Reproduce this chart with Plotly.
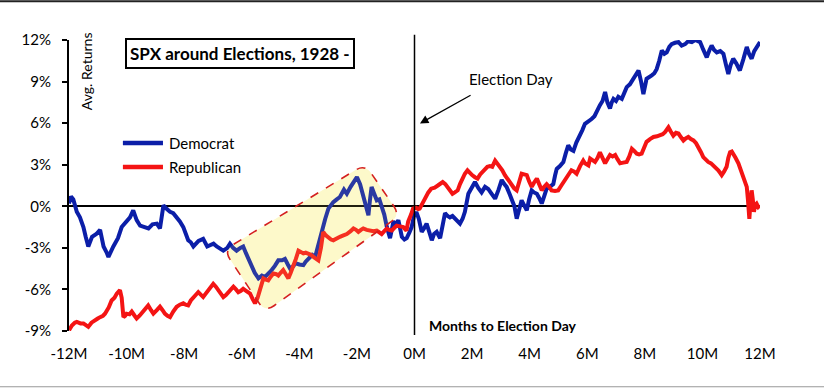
import numpy as np
import plotly.graph_objects as go

# ---------------- data ----------------
dem_months = [-12.0, -11.93, -11.85, -11.73, -11.62, -11.5, -11.42, -11.33, -11.2, -11.05, -10.92, -10.8, -10.7,
              -10.63, -10.46, -10.3, -10.17, -10.0, -9.88, -9.77, -9.65, -9.53, -9.38, -9.24, -9.1, -8.95, -8.84,
              -8.78, -8.72, -8.6, -8.49, -8.38, -8.26, -8.15, -8.03, -7.95, -7.86, -7.77, -7.68, -7.5, -7.34, -7.2,
              -7.1, -6.98, -6.87, -6.75, -6.64, -6.5, -6.41, -6.3, -6.18, -6.05, -5.95, -5.85, -5.71, -5.55, -5.42,
              -5.3, -5.19, -5.08, -4.96, -4.85, -4.73, -4.6, -4.5, -4.4, -4.32, -4.2, -4.15, -4.0, -3.86, -3.78,
              -3.69, -3.55, -3.45, -3.35, -3.22, -3.1, -2.99, -2.82, -2.7, -2.59, -2.45, -2.35, -2.22, -2.12, -2.0,
              -1.89, -1.8, -1.72, -1.6, -1.55, -1.49, -1.4, -1.31, -1.22, -1.14, -1.05, -0.96, -0.85, -0.73, -0.64,
              -0.56, -0.44, -0.35, -0.27, -0.18, -0.1, 0.0, 0.08, 0.15, 0.25, 0.33, 0.42, 0.52, 0.6, 0.68, 0.77,
              0.89, 0.97, 1.06, 1.15, 1.23, 1.32, 1.4, 1.5, 1.58, 1.67, 1.75, 1.87, 1.95, 2.1, 2.22, 2.33, 2.45,
              2.56, 2.68, 2.8, 2.92, 3.03, 3.12, 3.2, 3.3, 3.38, 3.47, 3.55, 3.63, 3.72, 3.8, 3.9, 3.98, 4.07, 4.15,
              4.25, 4.33, 4.42, 4.5, 4.59, 4.7, 4.82, 4.88, 4.94, 5.05, 5.17, 5.25, 5.34, 5.43, 5.52, 5.62, 5.75,
              5.83, 5.92, 6.03, 6.15, 6.25, 6.33, 6.44, 6.53, 6.62, 6.7, 6.79, 6.85, 6.91, 7.0, 7.08, 7.2, 7.28,
              7.37, 7.48, 7.6, 7.7, 7.78, 7.87, 7.95, 8.06, 8.15, 8.24, 8.33, 8.41, 8.5, 8.59, 8.68, 8.76, 8.85,
              8.93, 9.05, 9.17, 9.28, 9.4, 9.5, 9.63, 9.75, 9.85, 9.92, 10.03, 10.15, 10.25, 10.32, 10.4, 10.5,
              10.62, 10.73, 10.82, 10.9, 10.98, 11.07, 11.18, 11.3, 11.42, 11.54, 11.62, 11.71, 11.8, 11.9, 12.0]
dem_returns = [0.2, 0.7, 0.5, -0.4, -0.8, -1.5, -2.2, -2.9, -2.2, -2.0, -1.7, -2.9, -3.3,
               -3.65, -2.9, -2.3, -1.5, -1.1, -0.8, -0.3, -1.0, -1.4, -1.5, -1.6, -1.3, -1.25, -1.6,
               -0.8, 0.07, -0.2, -0.4, -0.5, -0.77, -1.1, -1.5, -2.0, -2.45, -2.6, -2.9, -2.5, -2.35, -2.9,
               -2.8, -2.7, -2.9, -3.1, -3.2, -3.0, -2.7, -3.0, -3.2, -3.0, -2.9, -3.4, -4.1, -4.8, -5.2,
               -5.0, -5.1, -4.9, -4.6, -4.3, -3.9, -3.9, -3.8, -4.2, -4.5, -4.3, -4.1, -4.2, -4.25, -4.0,
               -3.8, -3.5, -3.65, -2.8, -1.7, -0.9, -0.17, 0.3, 0.5, 0.67, 1.2, 0.9, 1.4, 1.75, 2.1,
               1.6, 0.9, 0.2, -0.65, 0.4, 1.4, 0.9, 0.43, 0.5, 0.07, -0.6, -1.5, -2.3, -1.1, -1.3,
               -1.0, -2.2, -2.4, -2.3, -1.9, -1.5, -0.5, -0.5, -0.9, -1.85, -1.6, -1.25, -1.9, -2.45, -2.0, -1.85,
               -2.3, -1.5, -0.5, -0.7, -0.8, -0.7, -0.9, -1.1, -1.25, -0.9, -0.4, 0.9, 1.2, 1.75, 1.3, 1.0, 1.4,
               1.25, 0.9, 0.55, 1.2, 1.9, 1.6, 1.4, 0.9, 0.43, 0.0, -0.9, -0.2, 0.43, 0.1, -0.3, 0.5, 1.15, 1.0,
               0.9, 0.6, 0.2, 0.7, 1.27, 1.4, 1.6, 2.2, 2.7, 2.9, 3.2, 3.8, 4.4, 4.1, 4.0, 4.6, 5.1,
               5.5, 5.95, 6.1, 6.3, 6.5, 6.9, 7.3, 7.6, 8.25, 7.5, 7.05, 7.5, 7.75, 7.6, 7.9, 7.75, 8.2,
               8.6, 8.8, 9.2, 9.4, 9.8, 9.0, 8.1, 9.2, 9.3, 9.45, 9.6, 9.9, 10.5, 11.25, 11.0, 11.1, 11.5,
               11.7, 11.8, 11.85, 11.6, 11.7, 11.9, 11.85, 12.0, 11.9, 11.85, 11.3, 10.75, 11.3, 11.6, 11.3, 11.1,
               11.2, 11.0, 10.2, 9.55, 10.2, 10.65, 10.3, 9.8, 10.6, 11.5, 11.0, 10.65, 11.2, 11.5, 11.85]

rep_months = [-12.0, -11.9, -11.8, -11.73, -11.6, -11.5, -11.4, -11.33, -11.22, -11.1, -11.0, -10.92, -10.82,
              -10.75, -10.62, -10.52, -10.42, -10.34, -10.23, -10.17, -10.11, -10.05, -10.0, -9.9, -9.82, -9.72,
              -9.65, -9.55, -9.42, -9.32, -9.25, -9.15, -9.07, -8.95, -8.84, -8.75, -8.67, -8.58, -8.49, -8.38,
              -8.26, -8.15, -8.03, -7.95, -7.86, -7.77, -7.68, -7.6, -7.51, -7.42, -7.34, -7.25, -7.16, -7.08,
              -6.99, -6.9, -6.81, -6.72, -6.64, -6.55, -6.47, -6.38, -6.29, -6.2, -6.12, -6.03, -5.95, -5.85,
              -5.71, -5.62, -5.54, -5.45, -5.37, -5.3, -5.25, -5.16, -5.08, -5.0, -4.9, -4.8, -4.73, -4.65, -4.56,
              -4.47, -4.38, -4.3, -4.21, -4.12, -4.03, -3.95, -3.86, -3.78, -3.69, -3.6, -3.51, -3.42, -3.34,
              -3.25, -3.17, -3.08, -2.99, -2.9, -2.82, -2.7, -2.59, -2.47, -2.35, -2.22, -2.12, -2.03, -1.95,
              -1.86, -1.78, -1.66, -1.55, -1.43, -1.31, -1.22, -1.14, -1.05, -0.96, -0.88, -0.79, -0.7, -0.62,
              -0.5, -0.39, -0.28, -0.22, -0.12, -0.05, 0.05, 0.13, 0.18, 0.25, 0.35, 0.48, 0.58, 0.7, 0.81, 0.9,
              0.98, 1.07, 1.15, 1.25, 1.32, 1.4, 1.5, 1.58, 1.67, 1.75, 1.84, 1.92, 2.0, 2.1, 2.19, 2.28, 2.36,
              2.45, 2.53, 2.62, 2.7, 2.8, 2.88, 2.97, 3.05, 3.14, 3.25, 3.37, 3.46, 3.55, 3.63, 3.72, 3.81, 3.9,
              3.98, 4.07, 4.15, 4.25, 4.33, 4.42, 4.5, 4.59, 4.68, 4.76, 4.88, 4.99, 5.1, 5.22, 5.33, 5.45, 5.55,
              5.63, 5.75, 5.86, 5.92, 6.04, 6.1, 6.18, 6.27, 6.36, 6.44, 6.53, 6.62, 6.7, 6.79, 6.88, 6.97, 7.05,
              7.14, 7.25, 7.37, 7.46, 7.55, 7.63, 7.72, 7.8, 7.89, 7.97, 8.06, 8.18, 8.3, 8.42, 8.53, 8.62, 8.7,
              8.76, 8.82, 8.9, 8.99, 9.08, 9.17, 9.25, 9.34, 9.42, 9.51, 9.6, 9.69, 9.78, 9.86, 9.95, 10.03, 10.12,
              10.2, 10.3, 10.38, 10.47, 10.55, 10.62, 10.67, 10.75, 10.84, 10.9, 10.96, 11.02, 11.07, 11.15, 11.25,
              11.33, 11.42, 11.5, 11.54, 11.58, 11.63, 11.67, 11.71, 11.75, 11.79, 11.83, 11.88, 11.94, 12.0]
rep_returns = [-8.95, -8.6, -8.4, -8.35, -8.45, -8.45, -8.6, -8.7, -8.4, -8.2, -8.1, -8.0, -7.9,
               -7.75, -7.3, -6.8, -6.6, -6.3, -6.05, -6.6, -8.0, -7.9, -7.75, -7.8, -7.6, -7.9,
               -8.1, -7.9, -7.6, -7.3, -7.15, -7.5, -7.75, -7.5, -7.25, -7.5, -7.75, -7.9, -8.0, -7.6,
               -7.25, -7.1, -7.0, -7.1, -7.15, -6.8, -6.55, -6.4, -6.2, -6.4, -6.55, -6.3, -6.05, -5.8,
               -5.6, -5.8, -6.05, -6.3, -6.55, -6.4, -6.2, -6.0, -5.8, -6.0, -6.2, -6.1, -5.95, -6.1,
               -6.3, -6.7, -7.0, -6.6, -6.05, -5.6, -5.2, -5.3, -5.35, -5.1, -4.85, -4.9, -5.0, -4.8, -4.6,
               -4.9, -5.2, -4.8, -4.35, -3.8, -3.2, -3.3, -3.4, -3.35, -3.4, -3.5, -3.65, -3.8, -3.9,
               -3.0, -1.85, -2.1, -2.3, -2.4, -2.45, -2.3, -2.2, -2.1, -2.0, -1.8, -1.6, -1.7, -1.85,
               -1.7, -1.6, -1.7, -1.75, -1.8, -1.75, -1.9, -2.0, -1.8, -1.6, -1.7, -1.75, -1.55, -1.4,
               -1.45, -1.5, -1.75, -1.1, -0.6, -0.17, -0.1, -0.2, -0.17, 0.1, 0.55, 1.0, 1.27, 1.35, 1.5, 1.6,
               1.75, 1.6, 1.4, 1.1, 0.9, 1.0, 1.15, 1.6, 2.1, 2.35, 2.6, 2.4, 2.25, 2.1, 2.0, 2.3, 2.5,
               2.7, 2.85, 2.9, 2.85, 3.3, 3.1, 2.85, 2.6, 2.25, 1.9, 1.6, 1.3, 1.15, 1.7, 2.35, 2.3, 2.25,
               1.8, 1.4, 1.7, 2.0, 1.6, 1.15, 1.4, 1.6, 1.4, 1.15, 1.1, 1.15, 1.5, 1.9, 2.3, 2.6, 2.5,
               2.35, 2.9, 3.3, 3.1, 2.95, 3.45, 3.3, 3.2, 3.5, 3.9, 3.5, 3.1, 3.4, 3.7, 3.6, 3.7, 3.4,
               3.1, 3.15, 3.2, 3.6, 4.15, 4.0, 3.8, 3.75, 3.8, 4.2, 4.65, 4.85, 5.0, 5.05, 5.1, 5.2, 5.35,
               5.5, 5.7, 5.4, 5.1, 5.3, 5.25, 5.0, 4.75, 4.9, 5.0, 4.85, 4.75, 4.55, 4.3, 3.9, 3.55, 3.35,
               3.2, 3.1, 2.95, 2.8, 2.6, 2.4, 2.25, 2.5, 2.85, 3.5, 3.9, 3.95, 3.8, 3.5, 3.1,
               2.6, 2.1, 1.7, 1.4, 0.5, -0.9, 0.3, 1.15, 0.5, -0.4, 0.1, 0.2, -0.05, 0.07]

x_tickvals = [-12, -10, -8, -6, -4, -2, 0, 2, 4, 6, 8, 10, 12]
x_ticktext = ["-12M", "-10M", "-8M", "-6M", "-4M", "-2M", "0M", "2M", "4M", "6M", "8M", "10M", "12M"]
y_tickvals = [-9, -6, -3, 0, 3, 6, 9, 12]
y_ticktext = ["-9%", "-6%", "-3%", "0%", "3%", "6%", "9%", "12%"]

FONT = "Lato"
BLUE = "#0b1ea8"
RED = "#f41414"

fig = go.Figure()
fig.add_trace(go.Scatter(x=dem_months, y=dem_returns, mode="lines", name="Democrat",
                         line=dict(color=BLUE, width=4), showlegend=False, hoverinfo="skip"))
fig.add_trace(go.Scatter(x=rep_months, y=rep_returns, mode="lines", name="Republican",
                         line=dict(color=RED, width=4), showlegend=False, hoverinfo="skip"))

# ---------- highlighted rounded parallelogram ----------
verts = [(-6.62, -3.17), (-1.72, 3.03), (-0.5, -0.65), (-5.19, -7.64)]
px_per_x, px_per_y = 28.79, 13.87
r = 11.0  # corner radius in px
def toward(a, b, dist):
    dxp = (b[0] - a[0]) * px_per_x
    dyp = (b[1] - a[1]) * px_per_y
    L = np.hypot(dxp, dyp)
    t = dist / L
    return (a[0] + (b[0] - a[0]) * t, a[1] + (b[1] - a[1]) * t)
n = len(verts)
path = ""
for i in range(n):
    v = verts[i]
    p = verts[i - 1]
    q = verts[(i + 1) % n]
    s = toward(v, p, r)
    e = toward(v, q, r)
    path += ("M" if i == 0 else "L") + f"{s[0]:.4f},{s[1]:.4f} Q{v[0]:.4f},{v[1]:.4f} {e[0]:.4f},{e[1]:.4f} "
path += "Z"
fig.add_shape(type="path", path=path, xref="x", yref="y", layer="below",
              fillcolor="#fdfbd6", line=dict(width=0))
fig.add_shape(type="path", path=path, xref="x", yref="y", layer="above",
              fillcolor="rgba(255,240,120,0.13)", line=dict(color="#d42020", width=1.6, dash="dash"))

# ---------- election day vertical line ----------
fig.add_shape(type="line", xref="x", yref="paper", x0=0, x1=0, y0=-0.014, y1=1.018,
              line=dict(color="black", width=1.5))

# ---------- image frame lines ----------
fig.add_shape(type="line", xref="paper", yref="paper", x0=-0.1, x1=1.1, y0=1.1335, y1=1.1335,
              line=dict(color="#222222", width=2))
fig.add_shape(type="line", xref="paper", yref="paper", x0=-0.1, x1=1.1, y0=-0.1915, y1=-0.1915,
              line=dict(color="#999999", width=1.2))

# ---------- manual legend ----------
leg_items = [("Democrat", BLUE, 0.646), ("Republican", RED, 0.5636)]
for name, col, yy in leg_items:
    fig.add_shape(type="line", xref="paper", yref="paper", x0=0.078, x1=0.136, y0=yy, y1=yy,
                  line=dict(color=col, width=4.5))
    fig.add_annotation(xref="paper", yref="paper", x=0.1418, y=yy, text=name, showarrow=False,
                       xanchor="left", yanchor="middle", font=dict(family=FONT, size=15, color="black"))

# ---------- texts ----------
fig.add_annotation(xref="paper", yref="paper", x=0.2475, y=0.952, text="<b>SPX around Elections, 1928 -</b>",
                   showarrow=False, xanchor="center", yanchor="middle",
                   font=dict(family=FONT, size=17, color="black"),
                   bordercolor="black", borderwidth=2, borderpad=3, bgcolor="white")
fig.add_annotation(xref="paper", yref="paper", x=0.0246, y=0.893, text="Avg. Returns", textangle=-90,
                   showarrow=False, xanchor="center", yanchor="middle",
                   font=dict(family=FONT, size=14, color="black"))
fig.add_annotation(x=3.35, y=9.16, xref="x", yref="y", text="Election Day", showarrow=False,
                   font=dict(family=FONT, size=15, color="black"))
fig.add_annotation(x=0.19, y=5.98, ax=2.0, ay=8.07, xref="x", yref="y", axref="x", ayref="y",
                   text="", showarrow=True, arrowhead=2, arrowsize=1.3, arrowwidth=1.3, arrowcolor="black")
fig.add_annotation(x=3.07, y=-8.58, xref="x", yref="y", text="<b>Months to Election Day</b>", showarrow=False,
                   font=dict(family=FONT, size=14, color="black"))

fig.update_layout(
    width=824, height=388,
    margin=dict(l=69, r=64, t=40, b=57),
    paper_bgcolor="white", plot_bgcolor="white",
    showlegend=False,
    font=dict(family=FONT, size=15, color="black"),
    xaxis=dict(range=[-12, 12], tickvals=x_tickvals, ticktext=x_ticktext, showgrid=False, zeroline=False,
               showline=False, ticks="", ticklabelstandoff=12, tickfont=dict(family=FONT, size=15)),
    xaxis2=dict(overlaying="x", matches="x", anchor="free", position=9 / 21, side="bottom",
                showline=False, ticks="outside", ticklen=5, tickwidth=1.5, tickcolor="black",
                tick0=-12, dtick=1, showticklabels=False, showgrid=False, zeroline=False),
    yaxis=dict(range=[-9, 12], tickvals=y_tickvals, ticktext=y_ticktext, showgrid=False,
               zeroline=True, zerolinecolor="black", zerolinewidth=2,
               showline=True, linecolor="black", linewidth=2, ticks="outside", ticklen=5,
               tickwidth=1.5, tickcolor="black", ticklabelstandoff=8, tickfont=dict(family=FONT, size=15)),
)

fig.write_html("out.html", config={"displayModeBar": False},
               post_script="document.body.style.margin='0';document.body.style.overflow='hidden';")
